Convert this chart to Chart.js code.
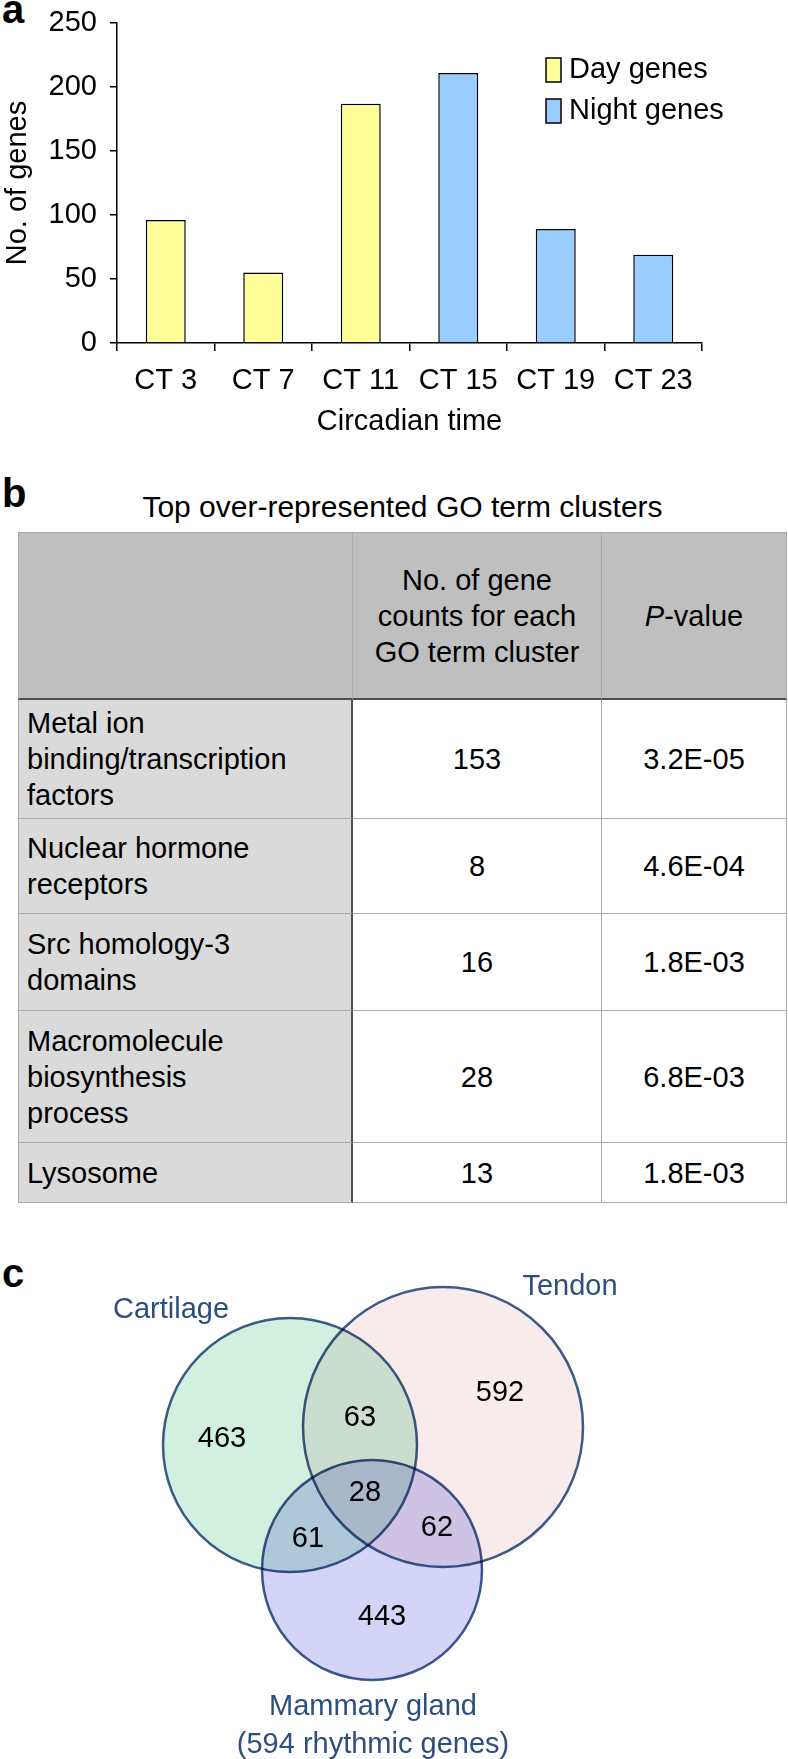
<!DOCTYPE html>
<html>
<head>
<meta charset="utf-8">
<script src="https://cdn.jsdelivr.net/npm/chart.js@4.4.1/dist/chart.umd.min.js"></script>
<style>
  html, body { margin: 0; padding: 0; background: #fff; }
  body { width: 788px; height: 1759px; position: relative; overflow: hidden;
         font-family: "Liberation Sans", Arial, Helvetica, sans-serif; color: #000; }
  .letter { position: absolute; left: 2px; font-weight: bold; font-size: 40px; line-height: 40px; }
  canvas { position: absolute; left: 0; }
  #tableTitle { position: absolute; left: 18px; width: 769px; top: 492px; text-align: center;
                font-size: 30px; line-height: 30px; }
  #goTable { position: absolute; left: 18px; top: 532px; width: 769px; height: 671px; }
  .cell { position: absolute; box-sizing: border-box; display: flex; align-items: center;
          font-size: 29px; line-height: 36px; white-space: pre-line;
          border-right: 1px solid #a9a9a9; border-bottom: 1px solid #a9a9a9; }
</style>
</head>
<body>
<div class="letter" style="top:-11px">a</div>
<div class="letter" style="top:473px">b</div>
<div class="letter" style="top:1253px">c</div>

<canvas id="chartA" width="788" height="460" style="top:0"></canvas>

<div id="tableTitle">Top over-represented GO term clusters</div>
<div id="goTable"></div>

<canvas id="chartC" width="788" height="529" style="top:1230px"></canvas>

<script>
Chart.defaults.font.family = '"Liberation Sans", Arial, Helvetica, sans-serif';
Chart.defaults.color = '#000';

// ---- panel a: rhythmic genes per circadian time ----
const categories = ['CT 3', 'CT 7', 'CT 11', 'CT 15', 'CT 19', 'CT 23'];
const dayGenes = [96, 55, 187, null, null, null];
const nightGenes = [null, null, null, 211, 89, 69];
const seriesNames = ['Day genes', 'Night genes'];

// ---- panel b: GO term clusters ----
const goHeaders = ['', 'No. of gene\ncounts for each\nGO term cluster', '<i>P</i>-value'];
const goTerms = ['Metal ion\nbinding/transcription\nfactors', 'Nuclear hormone\nreceptors',
                 'Src homology-3\ndomains', 'Macromolecule\nbiosynthesis\nprocess', 'Lysosome'];
const goCounts = [153, 8, 16, 28, 13];
const goPValues = ['3.2E-05', '4.6E-04', '1.8E-03', '6.8E-03', '1.8E-03'];

// ---- panel c: overlap of rhythmic genes ----
const vennSets = ['Cartilage', 'Tendon', 'Mammary gland'];
const vennRegions = ['Cartilage only', 'Tendon only', 'Mammary only',
                     'Cartilage+Tendon', 'Cartilage+Mammary', 'Tendon+Mammary', 'All three'];
const vennCounts = [463, 592, 443, 63, 61, 62, 28];

// venn layout (units of the venn panel)
const circleX = [290, 443, 372];
const circleY = [215, 197, 340];
const circleR = [127, 140, 110];
const regionX = [222, 500, 382, 360, 308, 437, 365];
const regionY = [209, 163, 387, 188, 309, 298, 263];
const setLabelX = [171, 570, 373];
const setLabelY = [80, 57, 477];

// ---------- panel a ----------
const legendBoxes = {
    id: 'legendBoxes',
    afterDraw(chart) {
        const ctx = chart.ctx;
        const area = chart.chartArea;
        ctx.save();
        chart.data.datasets.forEach((ds, i) => {
            const x = area.left + 429;
            const y = area.top + 35 + i * 41;
            ctx.fillStyle = ds.backgroundColor;
            ctx.fillRect(x, y, 15, 24);
            ctx.strokeStyle = '#000';
            ctx.lineWidth = 1.5;
            ctx.strokeRect(x, y, 15, 24);
            ctx.fillStyle = '#000';
            ctx.font = '29px "Liberation Sans", Arial, sans-serif';
            ctx.textBaseline = 'middle';
            ctx.textAlign = 'left';
            ctx.fillText(ds.label, x + 23, y + 12);
        });
        ctx.restore();
    }
};

new Chart(document.getElementById('chartA'), {
    type: 'bar',
    data: {
        labels: categories,
        datasets: [
            {
                label: seriesNames[0],
                data: dayGenes,
                backgroundColor: '#ffff99',
                borderColor: '#000',
                borderWidth: 1.5,
                grouped: false,
                barPercentage: 0.41,
                categoryPercentage: 1
            },
            {
                label: seriesNames[1],
                data: nightGenes,
                backgroundColor: '#99ccff',
                borderColor: '#000',
                borderWidth: 1.5,
                grouped: false,
                barPercentage: 0.41,
                categoryPercentage: 1
            }
        ]
    },
    options: {
        responsive: false,
        animation: false,
        events: [],
        layout: { padding: { top: 23, right: 86, left: 0, bottom: 0 } },
        plugins: { legend: { display: false }, tooltip: { enabled: false } },
        scales: {
            x: {
                grid: { drawOnChartArea: false, tickLength: 8, color: '#000', lineWidth: 1.5 },
                border: { color: '#000', width: 1.5 },
                ticks: { font: { size: 29 }, padding: 13, maxRotation: 0, autoSkip: false },
                title: { display: true, text: 'Circadian time', font: { size: 29 },
                         padding: { top: 0, bottom: 21 } },
                afterFit(scale) { scale.height = 117; }
            },
            y: {
                min: 0,
                max: 250,
                grid: { drawOnChartArea: false, tickLength: 7, color: '#000', lineWidth: 1.5 },
                border: { color: '#000', width: 1.5 },
                ticks: { stepSize: 50, font: { size: 29 }, padding: 13 },
                title: { display: true, text: 'No. of genes', font: { size: 29 },
                         padding: { top: 1, bottom: 0 } },
                afterFit(scale) {
                    scale.width = 117;
                    // keep the plot top at the layout padding
                    scale.paddingTop = 0;
                    scale.paddingBottom = 0;
                }
            }
        }
    },
    plugins: [legendBoxes]
});

// ---------- panel b ----------
const colLeft = [0, 335, 584];
const colWidth = [335, 249, 185];
const rowHeight = [168, 119, 95, 97, 132, 60];

function addCell(html, r, c) {
    const div = document.createElement('div');
    div.className = 'cell';
    let top = 0;
    for (let i = 0; i < r; i++) top += rowHeight[i];
    div.style.left = colLeft[c] + 'px';
    div.style.top = top + 'px';
    div.style.width = colWidth[c] + 'px';
    div.style.height = rowHeight[r] + 'px';
    if (r === 0) {
        div.style.background = '#bfbfbf';
        div.style.borderTop = '1px solid #a9a9a9';
        div.style.borderBottom = '2px solid #505050';
    } else if (c === 0) {
        div.style.background = '#dadada';
    } else {
        div.style.background = '#fff';
    }
    if (c === 0) {
        div.style.borderLeft = '1px solid #a9a9a9';
        if (r > 0) div.style.borderRight = '2px solid #505050';
        div.style.justifyContent = 'flex-start';
        div.style.paddingLeft = '8px';
    } else {
        div.style.justifyContent = 'center';
        div.style.textAlign = 'center';
    }
    div.innerHTML = html;
    document.getElementById('goTable').appendChild(div);
}

goHeaders.forEach((h, c) => addCell(h, 0, c));
goTerms.forEach((term, i) => {
    addCell(term, i + 1, 0);
    addCell(String(goCounts[i]), i + 1, 1);
    addCell(goPValues[i], i + 1, 2);
});

// ---------- panel c ----------
const multiplyBlend = {
    id: 'multiplyBlend',
    beforeDatasetsDraw(chart) {
        chart.ctx.save();
        chart.ctx.globalCompositeOperation = 'multiply';
    },
    afterDatasetsDraw(chart) {
        chart.ctx.restore();
    }
};

const vennText = {
    id: 'vennText',
    afterDraw(chart) {
        const ctx = chart.ctx;
        const xs = chart.scales.x;
        const ys = chart.scales.y;
        ctx.save();
        ctx.textAlign = 'center';
        ctx.textBaseline = 'middle';
        ctx.font = '29px "Liberation Sans", Arial, sans-serif';
        ctx.fillStyle = '#000';
        vennCounts.forEach((n, i) => {
            ctx.fillText(String(n), xs.getPixelForValue(regionX[i]), ys.getPixelForValue(regionY[i]));
        });
        ctx.fillStyle = '#2d4e7e';
        vennSets.forEach((name, i) => {
            ctx.fillText(name, xs.getPixelForValue(setLabelX[i]), ys.getPixelForValue(setLabelY[i]));
        });
        const total = vennCounts[2] + vennCounts[4] + vennCounts[5] + vennCounts[6];
        ctx.fillText('(' + total + ' rhythmic genes)', xs.getPixelForValue(setLabelX[2]),
                     ys.getPixelForValue(setLabelY[2] + 38));
        ctx.restore();
    }
};

new Chart(document.getElementById('chartC'), {
    type: 'scatter',
    data: {
        datasets: [{
            label: 'sets',
            data: circleX.map((x, i) => ({ x: x, y: circleY[i], r: circleR[i] })),
            pointBackgroundColor: ['#d1f0e0', '#f8ebeb', '#d4d4f8'],
            pointBorderColor: '#3e5d8c',
            pointBorderWidth: 2.5,
            pointRadius(ctx) {
                const xs = ctx.chart.scales.x;
                const p = ctx.raw;
                if (!p) return 0;
                return xs.getPixelForValue(p.x + p.r) - xs.getPixelForValue(p.x);
            },
            showLine: false,
            clip: false
        }]
    },
    options: {
        responsive: false,
        animation: false,
        events: [],
        layout: { padding: 0 },
        plugins: { legend: { display: false }, tooltip: { enabled: false } },
        scales: {
            x: { type: 'linear', min: 0, max: 788, display: false },
            y: { type: 'linear', min: 0, max: 529, reverse: true, display: false }
        }
    },
    plugins: [multiplyBlend, vennText]
});
</script>
</body>
</html>
